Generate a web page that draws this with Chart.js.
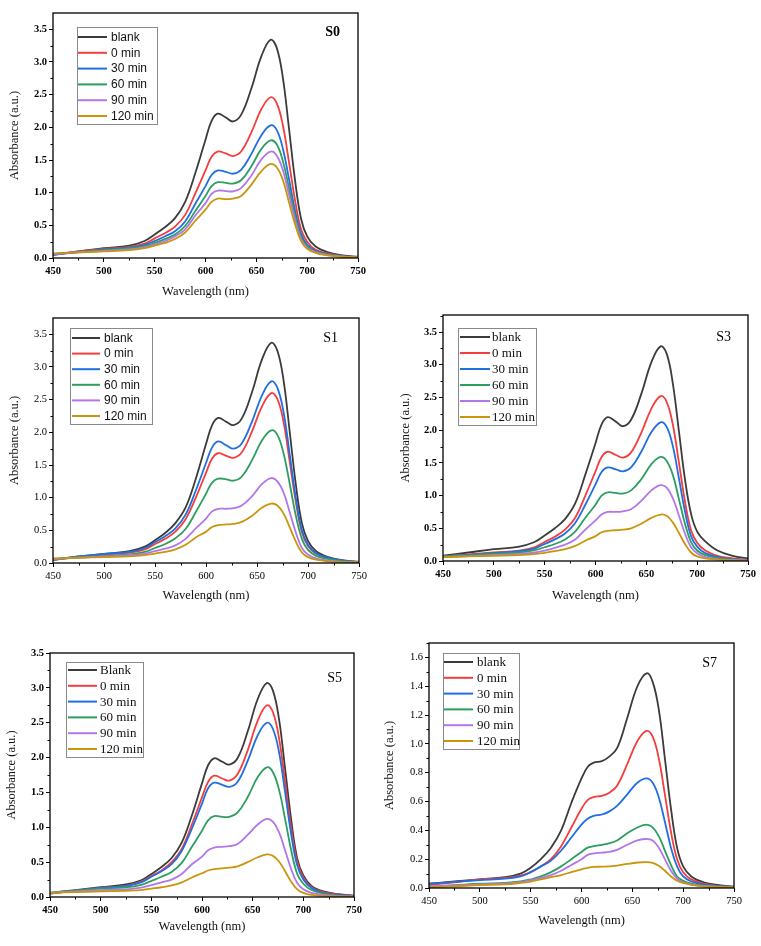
<!DOCTYPE html>
<html><head><meta charset="utf-8">
<script src="https://cdn.jsdelivr.net/npm/chart.js@4.4.1/dist/chart.umd.min.js"></script>
<style>
html,body{margin:0;padding:0;background:#fff}
body{width:761px;height:946px;position:relative;overflow:hidden}
canvas{position:absolute}
</style></head>
<body>
<canvas id="c0"></canvas><canvas id="c1"></canvas><canvas id="c3"></canvas><canvas id="c5"></canvas><canvas id="c7"></canvas>
<script>
// ---- data ----
const wavelengths = [450,475,500,525,540,550,560,570,580,590,600,606,612,620,627,635,645,655,664,670,676,682,688,694,700,708,720,735,750];
const seriesLabels = ['blank','0 min','30 min','60 min','90 min','120 min'];
const seriesLabelsS5 = ['Blank','0 min','30 min','60 min','90 min','120 min'];
const xTicks = [450,500,550,600,650,700,750];

const S0_blank = [0.05,0.10,0.15,0.19,0.26,0.36,0.47,0.61,0.86,1.30,1.81,2.10,2.21,2.15,2.09,2.19,2.59,3.09,3.34,3.22,2.77,2.00,1.20,0.60,0.33,0.18,0.09,0.04,0.02];
const S0_0min  = [0.06,0.10,0.14,0.17,0.22,0.30,0.38,0.48,0.66,0.99,1.34,1.55,1.63,1.60,1.56,1.63,1.92,2.28,2.46,2.37,2.04,1.48,0.89,0.44,0.25,0.13,0.07,0.03,0.015];
const S0_30min = [0.05,0.09,0.13,0.16,0.20,0.26,0.33,0.41,0.56,0.83,1.10,1.27,1.34,1.32,1.29,1.35,1.59,1.88,2.03,1.96,1.68,1.22,0.73,0.37,0.20,0.11,0.06,0.03,0.012];
const S0_60min = [0.06,0.09,0.12,0.15,0.18,0.23,0.29,0.36,0.49,0.72,0.95,1.10,1.16,1.15,1.14,1.19,1.40,1.67,1.80,1.74,1.49,1.08,0.65,0.32,0.18,0.10,0.05,0.02,0.011];
const S0_90min = [0.06,0.085,0.11,0.13,0.165,0.21,0.26,0.33,0.44,0.65,0.84,0.98,1.03,1.025,1.02,1.07,1.26,1.51,1.63,1.57,1.35,0.98,0.59,0.29,0.16,0.09,0.045,0.02,0.01];
const S0_120min= [0.07,0.085,0.10,0.12,0.15,0.19,0.23,0.29,0.39,0.57,0.74,0.86,0.91,0.90,0.91,0.95,1.12,1.33,1.44,1.39,1.20,0.86,0.52,0.26,0.14,0.08,0.04,0.02,0.01];

const S1_blank = [0.05,0.10,0.14,0.18,0.25,0.35,0.46,0.61,0.85,1.29,1.82,2.11,2.22,2.16,2.11,2.21,2.61,3.12,3.37,3.25,2.80,2.02,1.21,0.61,0.34,0.18,0.09,0.04,0.02];
const S1_0min  = [0.05,0.09,0.13,0.16,0.21,0.29,0.37,0.48,0.67,1.00,1.38,1.60,1.68,1.64,1.61,1.69,2.01,2.40,2.60,2.51,2.16,1.56,0.94,0.47,0.26,0.14,0.07,0.03,0.016];
const S1_30min = [0.05,0.10,0.14,0.17,0.23,0.32,0.41,0.53,0.74,1.11,1.53,1.77,1.86,1.80,1.75,1.83,2.16,2.57,2.78,2.68,2.31,1.67,1.00,0.50,0.28,0.15,0.08,0.035,0.017];
const S1_60min = [0.06,0.085,0.11,0.13,0.17,0.23,0.29,0.38,0.52,0.78,1.06,1.23,1.29,1.28,1.26,1.32,1.57,1.88,2.03,1.96,1.68,1.22,0.73,0.37,0.20,0.11,0.06,0.025,0.012];
const S1_90min = [0.06,0.08,0.10,0.12,0.145,0.18,0.22,0.27,0.37,0.53,0.68,0.79,0.83,0.83,0.84,0.88,1.02,1.21,1.30,1.25,1.08,0.78,0.47,0.23,0.13,0.07,0.035,0.016,0.008];
const S1_120min= [0.07,0.08,0.09,0.10,0.12,0.145,0.17,0.21,0.28,0.39,0.48,0.55,0.58,0.59,0.60,0.63,0.72,0.85,0.91,0.88,0.76,0.55,0.33,0.16,0.09,0.05,0.025,0.012,0.006];

const S3_blank = [0.08,0.13,0.18,0.22,0.29,0.39,0.50,0.64,0.88,1.32,1.80,2.09,2.20,2.13,2.06,2.16,2.55,3.04,3.28,3.17,2.72,1.99,1.25,0.72,0.45,0.30,0.16,0.08,0.04];
const S3_0min  = [0.07,0.10,0.13,0.16,0.21,0.29,0.37,0.48,0.66,1.00,1.37,1.59,1.67,1.62,1.58,1.66,1.96,2.33,2.52,2.43,2.09,1.51,0.91,0.47,0.28,0.16,0.08,0.04,0.02];
const S3_30min = [0.07,0.095,0.12,0.15,0.19,0.26,0.33,0.42,0.58,0.86,1.17,1.36,1.43,1.40,1.37,1.43,1.67,1.97,2.12,2.05,1.76,1.27,0.76,0.38,0.22,0.12,0.06,0.03,0.015];
const S3_60min = [0.07,0.09,0.11,0.13,0.165,0.21,0.26,0.33,0.45,0.66,0.86,1.00,1.05,1.04,1.03,1.08,1.25,1.48,1.59,1.53,1.32,0.95,0.57,0.29,0.16,0.09,0.045,0.02,0.01];
const S3_90min = [0.06,0.075,0.09,0.11,0.13,0.16,0.20,0.25,0.33,0.48,0.62,0.71,0.75,0.75,0.76,0.79,0.92,1.08,1.16,1.12,0.96,0.70,0.42,0.21,0.12,0.06,0.03,0.015,0.008];
const S3_120min= [0.06,0.07,0.08,0.09,0.105,0.125,0.15,0.18,0.23,0.31,0.38,0.44,0.46,0.47,0.48,0.50,0.57,0.66,0.71,0.69,0.59,0.43,0.26,0.13,0.07,0.04,0.02,0.01,0.005];

const S5_blank = [0.06,0.10,0.14,0.18,0.24,0.33,0.43,0.56,0.78,1.17,1.63,1.89,1.99,1.94,1.90,1.99,2.37,2.84,3.07,2.96,2.55,1.84,1.11,0.55,0.31,0.16,0.08,0.04,0.02];
const S5_0min  = [0.05,0.09,0.13,0.16,0.22,0.30,0.38,0.50,0.69,1.04,1.43,1.65,1.74,1.70,1.67,1.76,2.10,2.53,2.75,2.65,2.28,1.65,0.99,0.50,0.28,0.14,0.07,0.035,0.017];
const S5_30min = [0.05,0.09,0.13,0.16,0.21,0.29,0.37,0.47,0.66,0.98,1.34,1.56,1.64,1.61,1.58,1.65,1.95,2.32,2.50,2.41,2.08,1.50,0.90,0.45,0.25,0.13,0.06,0.03,0.015];
const S5_60min = [0.06,0.09,0.12,0.14,0.175,0.23,0.29,0.36,0.49,0.72,0.95,1.10,1.16,1.15,1.15,1.21,1.43,1.72,1.86,1.79,1.54,1.12,0.67,0.33,0.19,0.10,0.05,0.02,0.01];
const S5_90min = [0.06,0.08,0.10,0.11,0.135,0.17,0.21,0.25,0.33,0.47,0.58,0.67,0.71,0.72,0.73,0.76,0.89,1.04,1.12,1.08,0.93,0.67,0.40,0.20,0.11,0.06,0.03,0.014,0.007];
const S5_120min= [0.06,0.07,0.08,0.09,0.10,0.12,0.14,0.165,0.21,0.28,0.34,0.38,0.40,0.41,0.42,0.44,0.50,0.57,0.61,0.59,0.51,0.37,0.22,0.11,0.06,0.03,0.015,0.008,0.004];

const S7_blank = [0.03,0.045,0.06,0.075,0.10,0.14,0.20,0.28,0.40,0.59,0.76,0.84,0.87,0.88,0.91,0.97,1.18,1.40,1.49,1.43,1.24,0.90,0.55,0.28,0.15,0.08,0.04,0.02,0.01];
const S7_0min  = [0.02,0.04,0.06,0.07,0.085,0.11,0.15,0.20,0.29,0.42,0.55,0.61,0.63,0.64,0.66,0.71,0.86,1.02,1.09,1.05,0.90,0.65,0.39,0.20,0.11,0.06,0.03,0.015,0.008];
const S7_30min = [0.03,0.042,0.055,0.065,0.08,0.11,0.15,0.19,0.26,0.35,0.44,0.48,0.50,0.51,0.53,0.57,0.65,0.73,0.76,0.73,0.63,0.46,0.28,0.15,0.08,0.045,0.025,0.012,0.008];
const S7_60min = [0.01,0.02,0.03,0.035,0.045,0.06,0.08,0.11,0.15,0.20,0.25,0.28,0.29,0.30,0.31,0.33,0.38,0.42,0.44,0.42,0.36,0.26,0.16,0.08,0.05,0.03,0.015,0.01,0.006];
const S7_90min = [0.01,0.018,0.025,0.03,0.04,0.055,0.07,0.09,0.12,0.16,0.20,0.23,0.24,0.245,0.25,0.265,0.30,0.33,0.34,0.33,0.28,0.20,0.12,0.065,0.04,0.025,0.012,0.008,0.005];
const S7_120min= [0.005,0.012,0.02,0.025,0.035,0.045,0.06,0.075,0.09,0.11,0.13,0.14,0.146,0.148,0.15,0.155,0.167,0.177,0.18,0.175,0.155,0.12,0.08,0.05,0.035,0.022,0.012,0.008,0.005];

// ---- styles ----
const colors = ['#3b3b3b','#f43d3d','#1f6fe0','#2c9e60','#b276ea','#c9950c'];
const SERIF = '"Liberation Serif", "Times New Roman", serif';
const SANS = '"Liberation Sans", Arial, sans-serif';

const panels = [
  {id:'c0', tag:'S0', tagBold:true, tickBold:true, legendFont:SANS, legendSize:12, labels:seriesLabels,
   rect:[0,0,372,305], yAxisW:53, padTop:13, padRight:14, xAxisH:47, xTitlePad:5.5, yTitlePad:7.5,
   yMax:3.75, yStep:0.5, series:[S0_blank,S0_0min,S0_30min,S0_60min,S0_90min,S0_120min],
   legend:{box:[24,14,80,97], line:[25,54], text:58, row0:24, step:15.8}, tagPos:[-18,19]},
  {id:'c1', tag:'S1', tagBold:false, tickBold:false, legendFont:SANS, legendSize:12, labels:seriesLabels,
   rect:[0,305,372,300], yAxisW:53, padTop:13, padRight:13, xAxisH:42, xTitlePad:1.5, yTitlePad:7.5,
   yMax:3.75, yStep:0.5, series:[S1_blank,S1_0min,S1_30min,S1_60min,S1_90min,S1_120min],
   legend:{box:[17,10,82,96], line:[19,47], text:51, row0:20, step:15.6}, tagPos:[-21,20]},
  {id:'c3', tag:'S3', tagBold:false, tickBold:true, legendFont:SERIF, legendSize:13, labels:seriesLabels,
   rect:[380,305,381,300], yAxisW:63, padTop:10, padRight:13, xAxisH:44, xTitlePad:1.5, yTitlePad:18.5,
   yMax:3.76, yStep:0.5, series:[S3_blank,S3_0min,S3_30min,S3_60min,S3_90min,S3_120min],
   legend:{box:[15,13,78,97], line:[17,47], text:49, row0:22, step:16}, tagPos:[-17,22]},
  {id:'c5', tag:'S5', tagBold:false, tickBold:true, legendFont:SERIF, legendSize:13, labels:seriesLabelsS5,
   rect:[0,610,372,336], yAxisW:50, padTop:43, padRight:18, xAxisH:49, xTitlePad:11.5, yTitlePad:4.5,
   yMax:3.5, yStep:0.5, series:[S5_blank,S5_0min,S5_30min,S5_60min,S5_90min,S5_120min],
   legend:{box:[16,9,77,95], line:[18,47], text:50, row0:17, step:15.8}, tagPos:[-12,25]},
  {id:'c7', tag:'S7', tagBold:false, tickBold:false, legendFont:SERIF, legendSize:13, labels:seriesLabels,
   rect:[380,610,381,336], yAxisW:49, padTop:33, padRight:27, xAxisH:58, xTitlePad:17.5, yTitlePad:2.5,
   yMax:1.7, yStep:0.2, series:[S7_blank,S7_0min,S7_30min,S7_60min,S7_90min,S7_120min],
   legend:{box:[14,10,76,96], line:[15,44], text:48, row0:19, step:15.8}, tagPos:[-17,20]}
];

const decor = {
  id:'decor',
  afterDraw(chart, args, o) {
    const {ctx, chartArea:a, scales:{x, y}} = chart;
    ctx.save();
    // minor ticks
    ctx.strokeStyle = '#000'; ctx.lineWidth = 1;
    for (let v = x.min + 25; v < x.max; v += 50) {
      const px = Math.round(x.getPixelForValue(v)) + 0.5;
      ctx.beginPath(); ctx.moveTo(px, a.bottom); ctx.lineTo(px, a.bottom + 2.5); ctx.stroke();
    }
    for (let v = o.yStep / 2; v < y.max; v += o.yStep) {
      const py = Math.round(y.getPixelForValue(v)) + 0.5;
      ctx.beginPath(); ctx.moveTo(a.left, py); ctx.lineTo(a.left - 2.5, py); ctx.stroke();
    }
    // frame
    ctx.lineWidth = 1.3;
    ctx.strokeRect(a.left, a.top, a.right - a.left, a.bottom - a.top);
    // legend
    const L = o.legend;
    ctx.strokeStyle = '#8a8a8a'; ctx.lineWidth = 1;
    ctx.strokeRect(Math.round(a.left + L.box[0]) + 0.5, Math.round(a.top + L.box[1]) + 0.5, L.box[2], L.box[3]);
    ctx.font = o.legendSize + 'px ' + o.legendFont;
    ctx.textBaseline = 'middle'; ctx.textAlign = 'left';
    chart.data.datasets.forEach((ds, i) => {
      const yy = a.top + L.row0 + i * L.step;
      ctx.strokeStyle = ds.borderColor; ctx.lineWidth = 2;
      ctx.beginPath(); ctx.moveTo(a.left + L.line[0], yy); ctx.lineTo(a.left + L.line[1], yy); ctx.stroke();
      ctx.fillStyle = '#111';
      ctx.fillText(ds.label, a.left + L.text, yy + 0.5);
    });
    // panel tag
    ctx.font = (o.tagBold ? 'bold ' : '') + '14px ' + SERIF;
    ctx.textAlign = 'right'; ctx.fillStyle = '#000';
    ctx.fillText(o.tag, a.right + o.tagPos[0], a.top + o.tagPos[1]);
    ctx.restore();
  }
};

panels.forEach(p => {
  const cv = document.getElementById(p.id);
  cv.width = p.rect[2]; cv.height = p.rect[3];
  cv.style.left = p.rect[0] + 'px'; cv.style.top = p.rect[1] + 'px';
  cv.style.width = p.rect[2] + 'px'; cv.style.height = p.rect[3] + 'px';
  const tickFont = {family: SERIF, size: 10.5, weight: p.tickBold ? 'bold' : 'normal'};
  const titleFont = {family: SERIF, size: 12.5};
  new Chart(cv, {
    type: 'line',
    data: {
      datasets: p.series.map((vals, i) => ({
        label: p.labels[i],
        data: wavelengths.map((w, k) => ({x: w, y: vals[k]})),
        borderColor: colors[i],
        borderWidth: 1.8,
        pointRadius: 0,
        fill: false,
        tension: 0.4,
        order: 5 - i
      }))
    },
    options: {
      responsive: false, animation: false, devicePixelRatio: 1,
      layout: {padding: {left: 0, top: p.padTop, right: p.padRight, bottom: 0}},
      plugins: {legend: {display: false}, tooltip: {enabled: false},
        decor: {legend: p.legend, legendFont: p.legendFont, legendSize: p.legendSize, tag: p.tag, tagBold: p.tagBold, tagPos: p.tagPos, yStep: p.yStep}},
      scales: {
        x: {type: 'linear', min: 450, max: 750,
          afterFit: s => { s.height = p.xAxisH; },
          afterBuildTicks: s => { s.ticks = xTicks.map(v => ({value: v})); },
          ticks: {font: tickFont, color: '#000', padding: 3, maxRotation: 0, autoSkip: false, callback: v => String(v)},
          grid: {drawOnChartArea: false, tickLength: 4, color: '#000', lineWidth: 1},
          border: {display: false},
          title: {display: true, text: 'Wavelength (nm)', font: titleFont, color: '#111', padding: {top: 0, bottom: p.xTitlePad}}},
        y: {type: 'linear', min: 0, max: p.yMax,
          afterFit: s => { s.width = p.yAxisW; },
          ticks: {font: tickFont, color: '#000', padding: 2, stepSize: p.yStep, includeBounds: false, callback: v => Number(v).toFixed(1)},
          grid: {drawOnChartArea: false, tickLength: 4, color: '#000', lineWidth: 1},
          border: {display: false},
          title: {display: true, text: 'Absorbance (a.u.)', font: titleFont, color: '#111', padding: {top: p.yTitlePad, bottom: 0}}}
      }
    },
    plugins: [decor]
  });
});
</script>
</body></html>
